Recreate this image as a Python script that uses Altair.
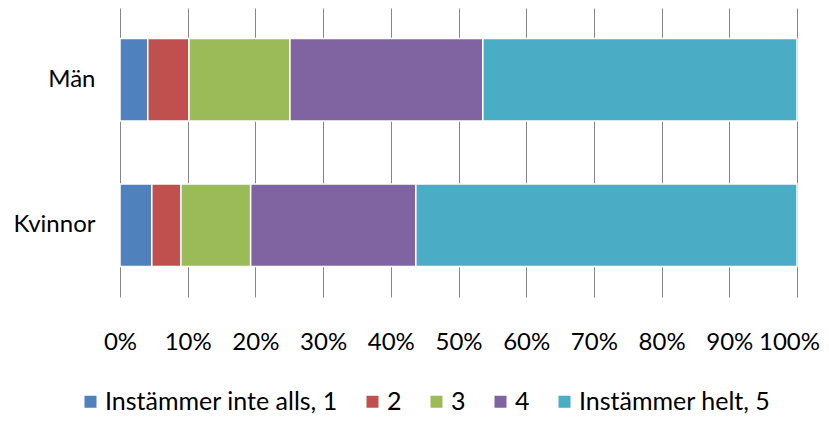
import altair as alt
import pandas as pd

groups = ["Män", "Kvinnor"]
categories = ["Instämmer inte alls, 1", "2", "3", "4", "Instämmer helt, 5"]
colors = ["#4F81BD", "#C0504D", "#9BBB59", "#8064A2", "#4BACC6"]
man_vals = [4.1, 6.1, 14.9, 28.5, 46.4]
kvinnor_vals = [4.7, 4.3, 10.3, 24.4, 56.3]

rows = []
for g, vals in zip(groups, [man_vals, kvinnor_vals]):
    for i, (c, v) in enumerate(zip(categories, vals)):
        rows.append({"grupp": g, "svar": c, "ordning": i, "andel": v})
df = pd.DataFrame(rows)

FONT = "Lato"
FS = 24

chart = alt.Chart(df).mark_bar(stroke="white", strokeWidth=1.5).encode(
    y=alt.Y("grupp:N", sort=groups, title=None,
            scale=alt.Scale(paddingInner=0.434, paddingOuter=0.21),
            axis=alt.Axis(labelFontSize=FS, labelFont=FONT, labelColor="#000",
                          ticks=False, domain=False, labelPadding=25)),
    x=alt.X("andel:Q", stack="normalize", title=None,
            scale=alt.Scale(domain=[0, 1]),
            axis=alt.Axis(format=".0%", values=[i / 10 for i in range(11)],
                          labelFontSize=FS, labelFont=FONT, labelColor="#000",
                          labelFlush=False, labelOverlap=False,
                          labelOffset=alt.condition("datum.value >= 1", alt.value(-8), alt.value(0)),
                          ticks=False, domain=False, grid=True,
                          gridColor="#868686", gridWidth=1,
                          labelPadding=33)),
    color=alt.Color("svar:N", sort=categories,
                    scale=alt.Scale(domain=categories, range=colors),
                    legend=alt.Legend(title=None, orient="none", direction="horizontal",
                                      legendX=-42, legendY=381,
                                      symbolType="square", symbolSize=144,
                                      symbolStrokeWidth=0,
                                      labelFontSize=25, labelFont=FONT, labelColor="#000",
                                      labelOffset=2, columnPadding=22,
                                      labelLimit=400)),
    order=alt.Order("ordning:Q"),
).properties(
    width=677, height=289,
    autosize=alt.AutoSizeParams(type="none"),
    padding={"left": 112, "top": 0, "right": 24, "bottom": 118},
).configure_view(stroke=None)

chart.save("out.html", embed_options={"renderer": "svg", "actions": False})
